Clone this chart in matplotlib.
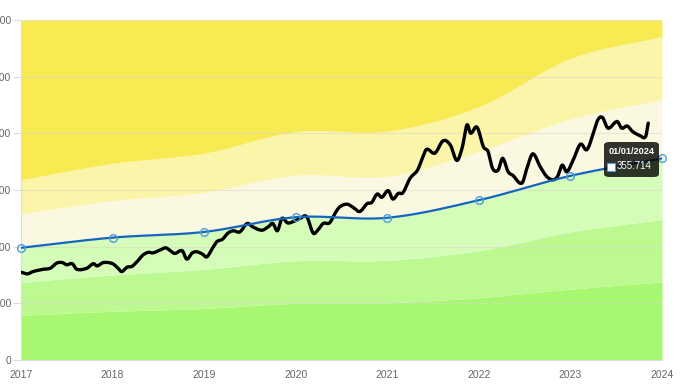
import numpy as np
import matplotlib
matplotlib.use("Agg")
import matplotlib.pyplot as plt
from matplotlib.patches import FancyBboxPatch, Rectangle

plt.rcParams['font.family'] = ['Liberation Sans', 'DejaVu Sans']

# yearly band boundaries (values), bottom to top
years = [2017, 2018, 2019, 2020, 2021, 2022, 2023, 2024]
band_dark = [79, 86, 91, 100, 101, 110, 125, 138]
band_light = [137, 150, 160, 175, 176, 193, 226, 248]
trend = [198, 216, 226, 252, 251, 282, 325, 355.714]
band_cream = [258, 281, 296, 326, 324, 368, 425, 460]
band_lyellow = [318, 347, 365, 403, 404, 447, 532, 571]
y_top = 600

# price series (fractional year, value)
price_t = [2017.00, 2017.07, 2017.13, 2017.24, 2017.32, 2017.39, 2017.45, 2017.50,
           2017.56, 2017.61, 2017.72, 2017.79, 2017.83, 2017.90, 2018.00, 2018.06,
           2018.10, 2018.16, 2018.21, 2018.27, 2018.33, 2018.39, 2018.44, 2018.52,
           2018.58, 2018.63, 2018.68, 2018.76, 2018.81, 2018.87, 2018.92, 2018.98,
           2019.03, 2019.09, 2019.14, 2019.20, 2019.26, 2019.32, 2019.39, 2019.47,
           2019.53, 2019.63, 2019.70, 2019.75, 2019.80, 2019.85, 2019.91, 2019.97,
           2020.05, 2020.12, 2020.19, 2020.24, 2020.30, 2020.37, 2020.43, 2020.48,
           2020.56, 2020.63, 2020.70, 2020.78, 2020.83, 2020.89, 2020.94, 2021.01,
           2021.06, 2021.12, 2021.17, 2021.25, 2021.33, 2021.39, 2021.43, 2021.52,
           2021.61, 2021.69, 2021.76, 2021.82, 2021.87, 2021.91, 2021.98, 2022.05,
           2022.10, 2022.15, 2022.21, 2022.26, 2022.32, 2022.37, 2022.47, 2022.53,
           2022.59, 2022.67, 2022.74, 2022.81, 2022.86, 2022.91, 2022.96, 2023.03,
           2023.11, 2023.18, 2023.25, 2023.30, 2023.35, 2023.41, 2023.51, 2023.56,
           2023.62, 2023.68, 2023.76, 2023.82, 2023.85]
price = [155, 152, 156, 160, 162, 171, 172, 168,
         170, 160, 162, 170, 166, 172, 170, 162,
         156, 164, 165, 174, 185, 190, 189, 194,
         198, 193, 188, 193, 178, 189, 191, 187,
         182, 197, 209, 213, 224, 228, 226, 241,
         235, 229, 235, 241, 228, 250, 242, 244,
         250, 253, 224, 229, 241, 242, 259, 270,
         275, 269, 262, 276, 278, 293, 287, 299,
         284, 294, 295, 321, 335, 359, 372, 365,
         387, 379, 352, 376, 415, 400, 411, 376,
         368, 338, 335, 356, 332, 326, 312, 341,
         364, 341, 324, 318, 324, 344, 332, 353,
         381, 371, 400, 424, 428, 409, 421, 409,
         413, 403, 396, 394, 418]


def smooth(xs, ys, n=12):
    xs = np.asarray(xs, float)
    ys = np.asarray(ys, float)
    m = np.zeros_like(ys)
    m[1:-1] = (ys[2:] - ys[:-2]) / (xs[2:] - xs[:-2])
    m[0] = (ys[1] - ys[0]) / (xs[1] - xs[0])
    m[-1] = (ys[-1] - ys[-2]) / (xs[-1] - xs[-2])
    out_x, out_y = [], []
    for i in range(len(xs) - 1):
        h = xs[i + 1] - xs[i]
        t = np.linspace(0, 1, n, endpoint=False)
        h00 = 2 * t**3 - 3 * t**2 + 1
        h10 = t**3 - 2 * t**2 + t
        h01 = -2 * t**3 + 3 * t**2
        h11 = t**3 - t**2
        out_x.append(xs[i] + t * h)
        out_y.append(h00 * ys[i] + h10 * h * m[i] + h01 * ys[i + 1] + h11 * h * m[i + 1])
    out_x.append([xs[-1]])
    out_y.append([ys[-1]])
    return np.concatenate(out_x), np.concatenate(out_y)


fig = plt.figure(figsize=(6.9, 3.91), dpi=100)
ax = fig.add_axes([21 / 690, 31 / 391, 641 / 690, 340 / 391])

gx, g1 = smooth(years, band_dark, 40)
_, g2 = smooth(years, band_light, 40)
_, g3 = smooth(years, trend, 40)
_, g4 = smooth(years, band_cream, 40)
_, g5 = smooth(years, band_lyellow, 40)

ax.fill_between(gx, 0, g1, color='#a7f870', lw=0, zorder=1)
ax.fill_between(gx, g1, g2, color='#bcf991', lw=0, zorder=1)
ax.fill_between(gx, g2, g3, color='#d5fcb9', lw=0, zorder=1)
ax.fill_between(gx, g3, g4, color='#fbf8e2', lw=0, zorder=1)
ax.fill_between(gx, g4, g5, color='#fbf5a9', lw=0, zorder=1)
ax.fill_between(gx, g5, y_top, color='#f7ea52', lw=0, zorder=1)

for v in range(100, 601, 100):
    ax.axhline(v, color='#d8d8c8', lw=0.8, alpha=0.6, zorder=2)

ax.plot(gx, g3, color='#1565c0', lw=1.6, zorder=4)
ax.plot(years, trend, 'o', ms=5.5, mfc='none', mec='#4a9ee0', mew=1.0,
        zorder=5, clip_on=False)

px, py = smooth(price_t, price, 6)
ax.plot(px, py, color='black', lw=2.4, zorder=3, solid_capstyle='round')

ax.set_xlim(2017, 2024)
ax.set_ylim(0, 600)
ax.set_xticks(years)
ax.set_xticklabels([str(y) for y in years])
ax.set_yticks(range(0, 601, 100))
ax.tick_params(axis='x', length=0, pad=7, labelsize=7.5, labelcolor='#666666')
ax.tick_params(axis='y', length=6, width=0.8, color='#dddddd', pad=1,
               labelsize=7.5, labelcolor='#666666')
for s in ['top', 'right']:
    ax.spines[s].set_visible(False)
for s in ['left', 'bottom']:
    ax.spines[s].set_color('#dddddd')
    ax.spines[s].set_linewidth(0.8)

# tooltip
box = FancyBboxPatch((604 / 690, (391 - 177) / 391), 55 / 690, 35 / 391,
                     boxstyle='round,pad=0,rounding_size=0.008',
                     transform=fig.transFigure, facecolor='black', alpha=0.8,
                     edgecolor='none', zorder=10)
fig.patches.append(box)
fig.text(631.5 / 690, (391 - 151) / 391, '01/01/2024', color='white',
         fontsize=6.6, fontweight='bold', ha='center', va='center', zorder=11)
fig.patches.append(Rectangle((607 / 690, (391 - 171) / 391), 8 / 690, 8 / 391,
                             transform=fig.transFigure, facecolor='white',
                             edgecolor='#4a9ee0', lw=0.8, zorder=11))
fig.text(617 / 690, (391 - 166) / 391, f'{trend[-1]:.3f}', color='white',
         fontsize=7, ha='left', va='center', zorder=11)

fig.savefig('out.png', dpi=100)
